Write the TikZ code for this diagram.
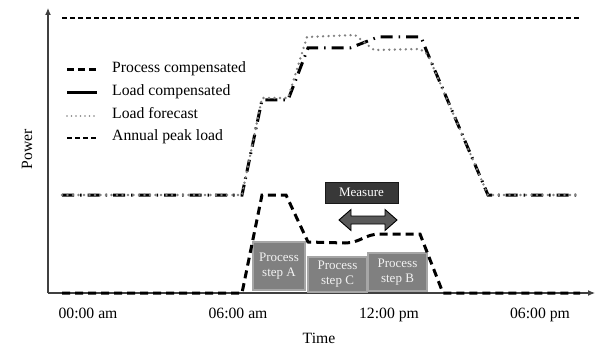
\documentclass[tikz,border=0pt]{standalone}
\usepackage{fontspec}
\setmainfont{Liberation Serif}
\usetikzlibrary{arrows.meta}
\begin{document}
\begin{tikzpicture}[x=1pt,y=-1pt,
  lbl/.style={inner sep=0pt,font=\fontsize{15.7}{18}\selectfont},
  axisline/.style={draw=black!75,line width=1.1pt,-{Latex[length=7pt,width=6pt]}},
  peakline/.style={line width=1.1pt,dash pattern=on 5pt off 3pt},
  procline/.style={line width=3pt,dash pattern=on 8pt off 5pt},
  compline/.style={line width=3pt,dash pattern=on 12pt off 6pt on 1.5pt off 6pt},
  fcline/.style={draw=black!50,line width=2.6pt,line cap=round,dash pattern=on 0pt off 5.5pt},
  stepbox/.style={draw=black!35,line width=1.3pt,fill=black!50,text=black!5,
    align=center,inner sep=0pt,font=\fontsize{13}{15}\selectfont},
  measbox/.style={draw=black!90,line width=1pt,fill=black!78,text=white,
    inner sep=0pt,font=\fontsize{13}{15}\selectfont},
]
\useasboundingbox (0,0) rectangle (598,345);

% axes
\coordinate (o) at (48,293);
\coordinate (ytop) at (48,8);
\coordinate (xend) at (595,293);
\draw[axisline] (o) -- (ytop);
\draw[axisline] (o) -- (xend);

% annual peak load
\coordinate (pk1) at (62,18);
\coordinate (pk2) at (580,18);
\draw[peakline] (pk1) -- (pk2);

% process step boxes
\node[stepbox,minimum width=52pt,minimum height=48pt] (stepA) at (279,266) {Process\\step A};
\node[stepbox,minimum width=59pt,minimum height=35pt] (stepC) at (337.5,274.5) {Process\\step C};
\node[stepbox,minimum width=59pt,minimum height=38pt] (stepB) at (397.5,272) {Process\\step B};

% measurement window
\node[measbox,minimum width=73pt,minimum height=21pt] (meas) at (361.5,192.5) {Measure};
\fill[black!65,draw=black,line width=0.9pt]
  (339,220) -- (351,209.5) -- (351,216) -- (385,216) -- (385,209.5) -- (397,220)
  -- (385,230.5) -- (385,224) -- (351,224) -- (351,230.5) -- cycle;

% process compensated profile
\draw[procline] (62,293) -- (242,293) -- (262,195) -- (286,195) -- (308,242)
  -- (345,243) .. controls (360,243) and (365,234) .. (380,234) -- (420,234)
  -- (443,293) -- (580,293);

% load compensated profile
\draw[compline] (62,195) -- (242,195) -- (262,100) -- (288,100) -- (308,48)
  -- (350,48) -- (378,37) -- (421,37) -- (427,52) -- (488,195) -- (578,195);

% load forecast
\draw[fcline] (62,195) -- (242,195) -- (262,98) -- (288,98) -- (307,37)
  -- (355,35) -- (374,50) -- (420,49) -- (428,55) -- (488,195) -- (578,195);

% legend
\coordinate (l1a) at (67,70);  \coordinate (l1b) at (97,70);
\coordinate (l2a) at (67,93);  \coordinate (l2b) at (97,93);
\coordinate (l3a) at (67,116); \coordinate (l3b) at (97,116);
\coordinate (l4a) at (67,138); \coordinate (l4b) at (97,138);
\draw[line width=3pt,dash pattern=on 7pt off 4pt] (l1a) -- (l1b);
\draw[line width=3pt] (l2a) -- (l2b);
\draw[fcline,line width=1.8pt,dash pattern=on 0pt off 4.5pt] (l3a) -- (l3b);
\draw[peakline] (l4a) -- (l4b);
\node[lbl,anchor=mid west] (t1) at (112,70) {Process compensated};
\node[lbl,anchor=mid west] (t2) at (112,93) {Load compensated};
\node[lbl,anchor=mid west] (t3) at (112,116) {Load forecast};
\node[lbl,anchor=mid west] (t4) at (112,138) {Annual peak load};

% axis labels
\node[lbl,rotate=90] (pw) at (27,149) {Power};
\node[lbl,anchor=base] (tm) at (319,343) {Time};
\node[lbl,anchor=base] (h0) at (88,318) {00:00 am};
\node[lbl,anchor=base] (h6) at (238,318) {06:00 am};
\node[lbl,anchor=base] (h12) at (389,318) {12:00 pm};
\node[lbl,anchor=base] (h18) at (540,318) {06:00 pm};
\end{tikzpicture}
\end{document}
